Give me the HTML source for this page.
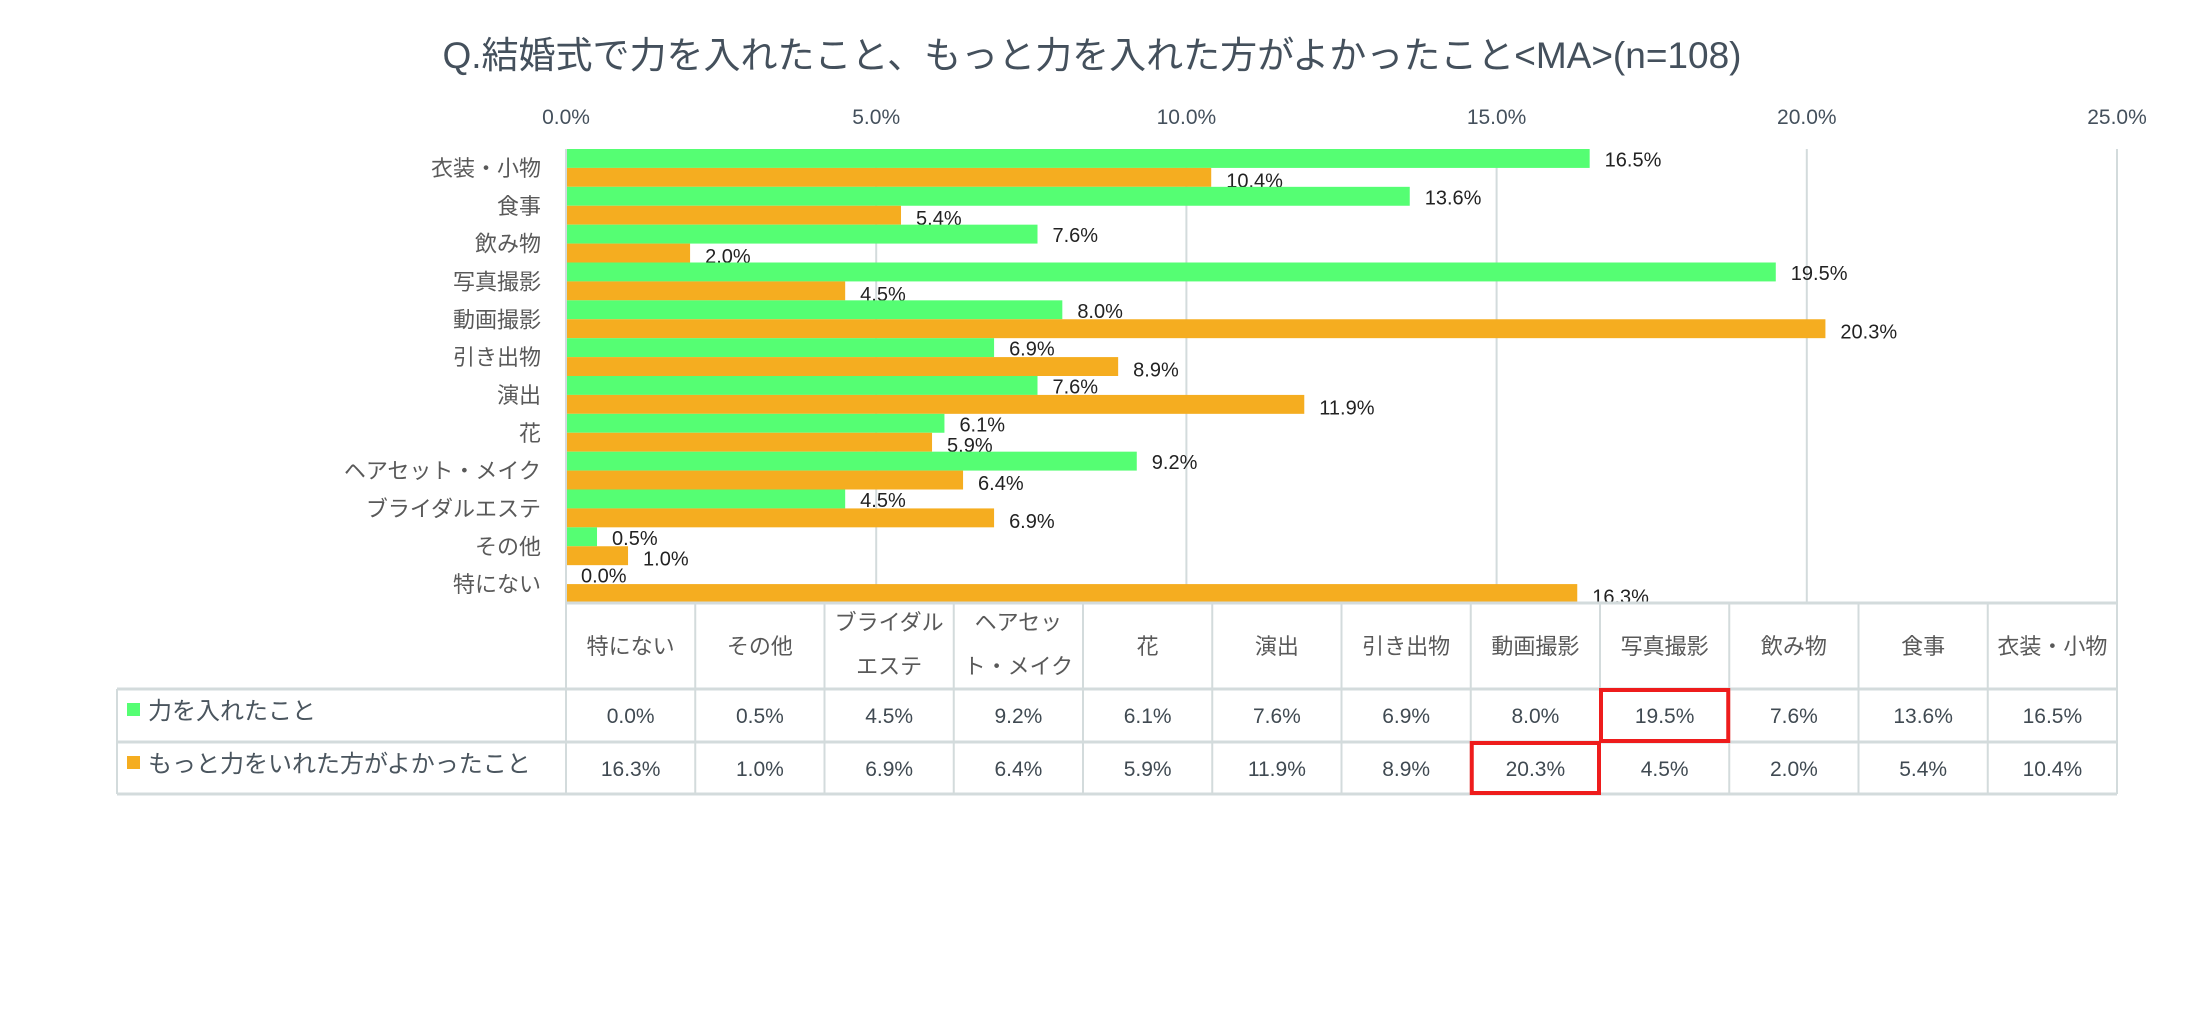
<!DOCTYPE html>
<html><head><meta charset="utf-8">
<style>
html,body{margin:0;padding:0;background:#fff;}
svg{display:block;font-family:"Liberation Sans","Noto Sans CJK JP",sans-serif;}
</style></head>
<body>
<svg id="chart" width="2185" height="1024" viewBox="0 0 2185 1024" xmlns="http://www.w3.org/2000/svg">
<rect width="2185" height="1024" fill="#fff"/>
<text x="1092" y="68" text-anchor="middle" font-size="37" fill="#44505c">Q.結婚式で力を入れたこと、もっと力を入れた方がよかったこと&lt;MA&gt;(n=108)</text>
<g id="grid"></g>
<g id="bars"></g>
<g id="table"></g>
</svg>
<script>
const categories = ["衣装・小物","食事","飲み物","写真撮影","動画撮影","引き出物","演出","花","ヘアセット・メイク","ブライダルエステ","その他","特にない"];
const seriesGreen = [16.5,13.6,7.6,19.5,8.0,6.9,7.6,6.1,9.2,4.5,0.5,0.0];
const seriesOrange = [10.4,5.4,2.0,4.5,20.3,8.9,11.9,5.9,6.4,6.9,1.0,16.3];
const tickValues = [0,5,10,15,20,25];
const seriesNames = ["力を入れたこと","もっと力をいれた方がよかったこと"];
const highlightCells = [[0,"写真撮影"],[1,"動画撮影"]];

const NS = "http://www.w3.org/2000/svg";
const X0 = 566, X1 = 2117, XMAX = 25;
const PT = 149, PB = 603;
const band = (PB - PT) / categories.length;
const barH = band / 2;
const xs = v => X0 + (v / XMAX) * (X1 - X0);
const GREEN = "#55fe73", ORANGE = "#f5ad20", GRID = "#d3dbdc";
function el(tag, attrs, parent, txt) {
  const e = document.createElementNS(NS, tag);
  for (const k in attrs) e.setAttribute(k, attrs[k]);
  if (txt !== undefined) e.textContent = txt;
  parent.appendChild(e);
  return e;
}
const grid = document.getElementById("grid");
tickValues.forEach(t => {
  const x = xs(t);
  const l = el("line", {x1:x, x2:x, y1:PT, y2:PB, stroke:GRID, "stroke-width":2}, grid);
  
  
  const tx = el("text", {x:x, y:124, "text-anchor":"middle", "font-size":21, fill:"#44505c"}, grid, t.toFixed(1) + "%");
  
  
});
const bars = document.getElementById("bars");
categories.forEach((c, i) => {
  const y = PT + i * band;
  const lab = el("text", {x:541, y:y + band/2 + 8, "text-anchor":"end", "font-size":22, fill:"#595959"}, bars, c);
  
  
  [[seriesGreen, GREEN, 0], [seriesOrange, ORANGE, 1]].forEach(([arr, col, k]) => {
    const v = arr[i];
    const by = y + k * barH;
    const r = el("rect", {x:X0, y:by, width:xs(v) - X0, height:barH, fill:col}, bars);
    
    
    const t = el("text", {x:xs(v) + 15, y:by + barH/2 + 8 + (k ? 2 : 0), "font-size":20, fill:"#222"}, bars, v.toFixed(1) + "%");
    
    
  });
});
el("line", {x1:X0, x2:X0, y1:PT, y2:PB, stroke:GRID, "stroke-width":2}, bars);

// table
const tbl = document.getElementById("table");
const cols = categories.slice().reverse();
const gVals = seriesGreen.slice().reverse();
const oVals = seriesOrange.slice().reverse();
const cw = (X1 - X0) / cols.length;
const rows = [PB, 689, 742, 794];
const TL = 117;
el("line", {x1:X0, x2:X1, y1:PB, y2:PB, stroke:GRID, "stroke-width":3}, tbl);
el("line", {x1:TL, x2:X1, y1:rows[1], y2:rows[1], stroke:GRID, "stroke-width":3}, tbl);
el("line", {x1:TL, x2:X1, y1:rows[2], y2:rows[2], stroke:GRID, "stroke-width":3}, tbl);
el("line", {x1:TL, x2:X1, y1:rows[3], y2:rows[3], stroke:GRID, "stroke-width":3}, tbl);
el("line", {x1:TL, x2:TL, y1:rows[1], y2:rows[3], stroke:GRID, "stroke-width":2}, tbl);
for (let j = 0; j <= cols.length; j++) {
  const x = X0 + j * cw;
  el("line", {x1:x, x2:x, y1:PB, y2:rows[3], stroke:GRID, "stroke-width":2}, tbl);
}
const wrap = {"ブライダルエステ":["ブライダル","エステ"], "ヘアセット・メイク":["ヘアセッ","ト・メイク"]};
cols.forEach((c, j) => {
  const cx = X0 + (j + 0.5) * cw;
  let h;
  if (wrap[c]) {
    h = el("text", {x:cx, y:0, "text-anchor":"middle", "font-size":22, fill:"#595959"}, tbl);
    el("tspan", {x:cx, y:630}, h, wrap[c][0]);
    el("tspan", {x:cx, y:674}, h, wrap[c][1]);
  } else {
    h = el("text", {x:cx, y:654, "text-anchor":"middle", "font-size":22, fill:"#595959"}, tbl, c);
  }
  
  
  const a = el("text", {x:cx, y:723, "text-anchor":"middle", "font-size":21, fill:"#404a52"}, tbl, gVals[j].toFixed(1) + "%");
  
  
  const b = el("text", {x:cx, y:776, "text-anchor":"middle", "font-size":21, fill:"#404a52"}, tbl, oVals[j].toFixed(1) + "%");
  
  
});
[[GREEN, 0], [ORANGE, 1]].forEach(([col, k]) => {
  const ry = rows[1 + k];
  const sq = el("rect", {x:127, y:ry + 14, width:13, height:13, fill:col}, tbl);
  
  
  const t = el("text", {x:148, y:ry + 30, "font-size":24, fill:"#4a555e"}, tbl, seriesNames[k]);
  
  
});
highlightCells.forEach(([r, c]) => {
  const j = cols.indexOf(c);
  const hb = el("rect", {x:X0 + j * cw + 1, y:rows[1 + r] + 1, width:cw - 2, height:rows[2 + r] - rows[1 + r] - 2, fill:"none", stroke:"#ee1c1c", "stroke-width":4}, tbl);
  
  
});
</script>
</body></html>
